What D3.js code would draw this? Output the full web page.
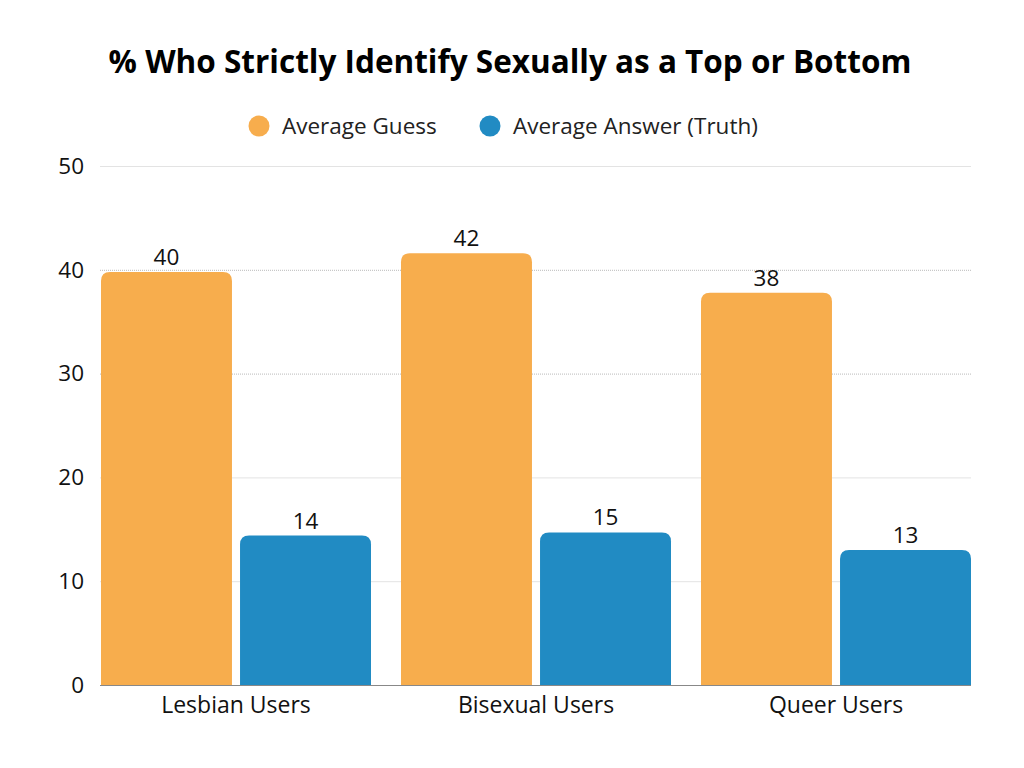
<!DOCTYPE html>
<html><head><meta charset="utf-8">
<script src="https://cdn.jsdelivr.net/npm/d3@7"></script>
<style>body{margin:0;background:#fff}svg{display:block}text{font-family:"Open Sans","Noto Sans",sans-serif}</style>
</head><body><svg id="c" width="1024" height="768"></svg>
<script>
const categories = ["Lesbian Users","Bisexual Users","Queer Users"];
const seriesNames = ["Average Guess","Average Answer (Truth)"];
const guessValues = [39.8, 41.6, 37.8];
const truthValues = [14.4, 14.7, 13.0];
const yTicks = [0,10,20,30,40,50];
const colors = ["#F7AD4D","#218BC3"];
const title = "% Who Strictly Identify Sexually as a Top or Bottom";

const svg = d3.select("#c");
const FS = 22.5;
const x0 = d3.scaleBand().domain(categories).range([101,971]).paddingInner(0.1).paddingOuter(0);
const x1 = d3.scaleBand().domain(seriesNames).range([0,x0.bandwidth()]).paddingInner(0.058).paddingOuter(0);
const y = d3.scaleLinear().domain([0,50]).range([685,166]);
const color = d3.scaleOrdinal().domain(seriesNames).range(colors);

svg.append("text").attr("x",510).attr("y",73).attr("text-anchor","middle")
  .attr("font-size",31.5).attr("font-weight",700).attr("fill","#000").text(title);

// legend
const leg = [{n:seriesNames[0],cx:259,tx:282},{n:seriesNames[1],cx:490,tx:513}];
leg.forEach(l=>{
  svg.append("circle").attr("cx",l.cx).attr("cy",126).attr("r",10.5).attr("fill",color(l.n));
  svg.append("text").attr("x",l.tx).attr("y",134).attr("font-size",FS).attr("fill","#222").text(l.n);
});

// grid
const yAxis = d3.axisLeft(y).tickValues(yTicks).tickSize(0).tickPadding(16).tickFormat(d3.format("d"));
const ga = svg.append("g").attr("transform","translate(100,0)").call(yAxis);
ga.select(".domain").remove();
ga.selectAll("text").attr("font-size",FS).attr("fill","#111").attr("font-family","'Open Sans','Noto Sans',sans-serif");
svg.append("g").selectAll("line").data(yTicks.filter(d=>d>0)).join("line")
  .attr("x1",100).attr("x2",971).attr("y1",d=>y(d)+0.5).attr("y2",d=>y(d)+0.5)
  .attr("stroke",d=>(d===30||d===40)?"#bbb":"#e3e3e3").attr("stroke-dasharray",d=>(d===30||d===40)?"1,1":null);

const data = categories.map((c,i)=>({cat:c, vals:[{s:seriesNames[0],v:guessValues[i]},{s:seriesNames[1],v:truthValues[i]}]}));
function topRounded(x,yt,w,h,r){
  r=Math.min(r,w/2,h);
  return `M${x},${yt+h}V${yt+r}Q${x},${yt} ${x+r},${yt}H${x+w-r}Q${x+w},${yt} ${x+w},${yt+r}V${yt+h}Z`;
}
const g = svg.append("g").selectAll("g").data(data).join("g").attr("transform",d=>`translate(${x0(d.cat)},0)`);
g.selectAll("path").data(d=>d.vals).join("path")
  .attr("d",d=>topRounded(x1(d.s),y(d.v),x1.bandwidth(),y(0)-y(d.v),9))
  .attr("fill",d=>color(d.s));
g.selectAll("text").data(d=>d.vals).join("text")
  .attr("x",d=>x1(d.s)+x1.bandwidth()/2).attr("y",d=>y(d.v)-7)
  .attr("text-anchor","middle").attr("font-size",FS).attr("fill","#111")
  .text(d=>d3.format(".0f")(d.v));

svg.append("line").attr("x1",100).attr("x2",971).attr("y1",685.5).attr("y2",685.5).attr("stroke","#888").attr("stroke-width",1.2);

const xAxis = d3.axisBottom(x0).tickSize(0).tickPadding(12);
const gx = svg.append("g").attr("transform","translate(0,685)").call(xAxis);
gx.select(".domain").remove();
gx.selectAll("text").attr("font-size",FS+0.5).attr("fill","#111").attr("font-family","'Open Sans','Noto Sans',sans-serif");
</script></body></html>
